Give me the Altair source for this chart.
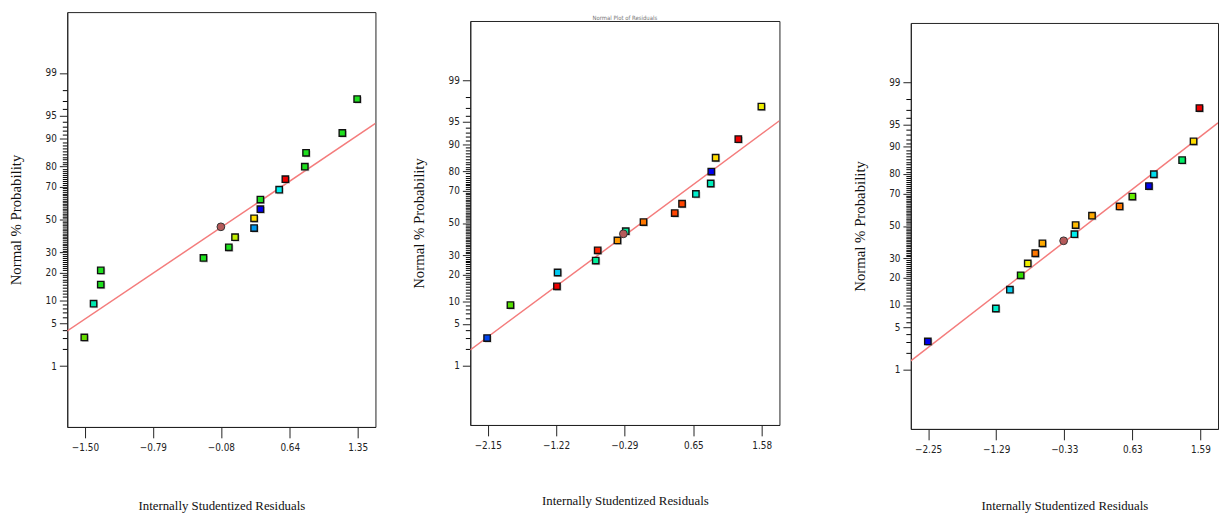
import altair as alt
import pandas as pd
from statistics import NormalDist

ND = NormalDist()


def zval(p):
    return ND.inv_cdf(p / 100.0)


# ---------------- data ----------------
PCT_TICKS = [1, 5, 10, 20, 30, 50, 70, 80, 90, 95, 99]
MINOR_PCT = [p for p in range(1, 100) if p not in PCT_TICKS]
Z_DOMAIN = [-3.29, 3.29]

# Panel 1
X1 = [-1.507, -1.410, -1.335, -1.335, -0.262, 0.003, 0.068, 0.267, 0.267,
      0.333, 0.333, 0.529, 0.594, 0.797, 0.810, 1.189, 1.344]
P1 = [3.07, 9.1, 15.1, 21.0, 27.1, 33.0, 39.0, 44.6, 50.8,
      56.5, 62.4, 68.2, 73.9, 79.9, 85.5, 91.5, 97.2]
CIRCLE1 = (-0.080, 45.4)
LINE1_X = [-1.685, 1.535]
LINE1_P = [3.86, 93.62]
XDOM1 = [-1.685, 1.535]
XTICKS1 = [-1.50, -0.79, -0.08, 0.64, 1.35]

# Panel 2
X2 = [-2.159, -1.841, -1.208, -1.199, -0.680, -0.653, -0.384, -0.271, -0.029,
      0.396, 0.496, 0.684, 0.886, 0.894, 0.953, 1.262, 1.576]
P2 = [3.05, 9.06, 15.1, 21.0, 27.0, 32.8, 38.8, 44.7, 50.6,
      56.4, 62.3, 68.2, 74.0, 79.9, 85.6, 91.4, 97.1]
CIRCLE2 = (-0.303, 43.0)
LINE2_X = [-2.388, 1.822]
LINE2_P = [1.94, 95.21]
XDOM2 = [-2.388, 1.822]
XTICKS2 = [-2.15, -1.22, -0.29, 0.65, 1.58]

# Panel 3
X3 = [-2.254, -1.295, -1.097, -0.945, -0.845, -0.739, -0.638, -0.187, -0.170,
      0.061, 0.450, 0.630, 0.864, 0.933, 1.332, 1.493, 1.576]
P3 = [3.06, 9.05, 15.1, 21.2, 27.2, 32.9, 38.9, 44.7, 50.6,
      56.6, 62.4, 68.3, 74.1, 79.9, 85.7, 91.5, 97.2]
CIRCLE3 = (-0.339, 40.5)
LINE3_X = [-2.494, 1.838]
LINE3_P = [1.44, 95.25]
XDOM3 = [-2.494, 1.838]
XTICKS3 = [-2.25, -1.29, -0.33, 0.63, 1.59]

# point colours (style)
G = "#1ee01e"
COL1 = ["#66dd00", "#00e8b0", G, G, G, G, "#c0ee00", "#0099ee", "#ffdd00",
        "#0000ee", G, "#00eeee", "#ee0000", G, G, G, G]
COL2 = ["#0044ee", "#55e000", "#ee0000", "#00c8f0", "#00ee99", "#ff2200",
        "#ff9900", "#00ee99", "#ff7700", "#ff4400", "#ff4400", "#00eecc",
        "#00eebb", "#0000ee", "#ffdd00", "#ee0000", "#eeee00"]
COL3 = ["#0000ee", "#00eecc", "#00ccee", "#33dd00", "#eeee00", "#ff7700",
        "#ffaa00", "#00eeee", "#ffbb00", "#ffaa00", "#ff7700", "#66ee00",
        "#0000ee", "#00ddee", "#00ee66", "#ffdd00", "#ee0000"]

LABEL_FONT = "Liberation Sans Narrow, DejaVu Sans Condensed, Arial Narrow, sans-serif"
TITLE_FONT = "Liberation Serif, Times New Roman, serif"

MAJOR_Z = [zval(p) for p in PCT_TICKS]
MINOR_Z = [zval(p) for p in MINOR_PCT]

label_expr = "''"
for p, zz in zip(PCT_TICKS, MAJOR_Z):
    label_expr = f"abs(datum.value - ({zz:.6f})) < 0.0005 ? '{p}' : ({label_expr})"


def panel(xs, ps, cols, circle, line_x, line_p, xdom, xticks, width, height,
          title, title_y):
    pts = pd.DataFrame({"res": xs, "prob": ps, "col": cols})
    pts["z"] = [zval(p) for p in ps]
    circ = pd.DataFrame({"res": [circle[0]], "prob": [circle[1]]})
    circ["z"] = [zval(circle[1])]
    ln = pd.DataFrame({"res": line_x, "prob": line_p})
    ln["z"] = [zval(p) for p in line_p]

    xscale = alt.Scale(domain=xdom, nice=False, zero=False)
    yscale = alt.Scale(domain=Z_DOMAIN, nice=False, zero=False)

    x_axis = alt.Axis(values=xticks, format=".2f", tickSize=11, labelPadding=5,
                      labelFont=LABEL_FONT, labelFontSize=10, labelColor="#222",
                      title="Internally Studentized Residuals", titleFont=TITLE_FONT,
                      titleFontSize=13, titleFontWeight="normal", titleColor="#111",
                      titleY=title_y, titleBaseline="middle", grid=False,
                      domainColor="#222", tickColor="#222", orient="bottom")
    y_major = alt.Axis(values=MAJOR_Z, labelExpr=label_expr, tickSize=8, labelPadding=3,
                       labelFont=LABEL_FONT, labelFontSize=10, labelColor="#222",
                       title="Normal % Probability", titleFont=TITLE_FONT,
                       titleFontSize=15, titleFontWeight="normal", titleColor="#111",
                       titleX=-52, titleBaseline="middle", grid=False, orient="left",
                       domainColor="#222", tickColor="#222")
    y_minor = alt.Axis(values=MINOR_Z, labels=False, tickSize=5, domain=False,
                       title=None, grid=False, orient="left", tickColor="#000",
                       tickWidth=1)

    xenc = alt.X("res:Q", scale=xscale, axis=x_axis)

    line = alt.Chart(ln).mark_line(color="#f47c7c", strokeWidth=1.5, clip=True).encode(
        x=xenc,
        y=alt.Y("z:Q", scale=yscale, axis=y_minor),
    )
    shadow = alt.Chart(pts).mark_square(size=46, color="#9a9a9a", opacity=0.55,
                                        xOffset=1.2, yOffset=1.2).encode(
        x=xenc,
        y=alt.Y("z:Q", scale=yscale, axis=None),
    )
    squares = alt.Chart(pts).mark_square(size=42, stroke="#111", strokeWidth=1.4,
                                         opacity=1).encode(
        x=xenc,
        y=alt.Y("z:Q", scale=yscale, axis=y_major),
        fill=alt.Fill("col:N", scale=None),
    )
    circle_m = alt.Chart(circ).mark_point(shape="circle", size=62, filled=True,
                                          fill="#b55a5a", stroke="#333",
                                          strokeWidth=1, opacity=1).encode(
        x=xenc,
        y=alt.Y("z:Q", scale=yscale, axis=None),
    )
    ch = alt.layer(line, shadow, squares, circle_m).resolve_axis(y="independent")
    props = dict(width=width, height=height)
    if title is not None:
        props["title"] = title
    return ch.properties(**props)


def spacer(width, height):
    return alt.Chart(pd.DataFrame({"v": [0]})).mark_point(
        opacity=0, size=0, strokeWidth=0
    ).encode(
        x=alt.X("v:Q", axis=None, scale=alt.Scale(domain=[-1, 1])),
        y=alt.Y("v:Q", axis=None, scale=alt.Scale(domain=[-1, 1])),
    ).properties(width=width, height=height,
                 view=alt.ViewBackground(stroke="transparent", fill="transparent"))


t2 = alt.TitleParams(text="Normal Plot of Residuals", fontSize=6, color="#777",
                     offset=0, font=LABEL_FONT, fontWeight="normal")

p1 = panel(X1, P1, COL1, CIRCLE1, LINE1_X, LINE1_P, XDOM1, XTICKS1, 312, 420, None, 80)
p2 = panel(X2, P2, COL2, CIRCLE2, LINE2_X, LINE2_P, XDOM2, XTICKS2, 313, 409, t2, 77)
p3 = panel(X3, P3, COL3, CIRCLE3, LINE3_X, LINE3_P, XDOM3, XTICKS3, 311, 411, None, 78)

col2 = alt.vconcat(spacer(313, 1), p2, spacing=0)
col3 = alt.vconcat(spacer(311, 9), p3, spacing=0)

chart = alt.hconcat(
    alt.hconcat(p1, col2, spacing=35),
    col3,
    spacing=72,
).properties(
    padding={"left": 0, "top": 0, "right": 0, "bottom": 0},
    background="white",
    autosize=alt.AutoSizeParams(type="pad"),
).configure_view(stroke="#222", strokeWidth=1)

chart.save("out.html", embed_options={"renderer": "svg", "actions": False})
